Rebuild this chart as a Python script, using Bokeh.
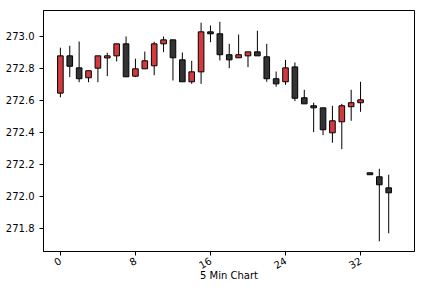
from bokeh.plotting import figure
from bokeh.models import ColumnDataSource, Range1d, FixedTicker, NumeralTickFormatter
from bokeh.embed import file_html
from bokeh.resources import INLINE

idx = list(range(36))
opens = [272.646, 272.879, 272.804, 272.742, 272.802, 272.866, 272.879, 272.954, 272.752, 272.798,
         272.817, 272.954, 272.979, 272.854, 272.717, 272.779, 273.029, 273.017, 272.886, 272.867,
         272.879, 272.904, 272.873, 272.736, 272.717, 272.810, 272.617, 272.567, 272.554, 272.398,
         272.467, 272.561, 272.586, 272.148, 272.123, 272.054]
highs = [272.930, 272.942, 272.969, 272.786, 272.879, 272.898, 272.954, 273.000, 272.861, 272.906,
         272.967, 273.000, 272.979, 272.900, 272.848, 273.086, 273.069, 273.092, 272.954, 273.012,
         272.904, 273.036, 272.954, 272.781, 272.854, 272.838, 272.667, 272.586, 272.554, 272.567,
         272.579, 272.667, 272.717, 272.148, 272.173, 272.136]
lows = [272.620, 272.746, 272.714, 272.714, 272.714, 272.752, 272.844, 272.748, 272.746, 272.798,
        272.758, 272.902, 272.725, 272.717, 272.704, 272.704, 272.964, 272.850, 272.802, 272.867,
        272.808, 272.879, 272.717, 272.686, 272.698, 272.596, 272.579, 272.402, 272.383, 272.336,
        272.296, 272.473, 272.529, 272.136, 271.720, 271.770]
closes = [272.879, 272.814, 272.736, 272.786, 272.879, 272.879, 272.954, 272.748, 272.798, 272.848,
          272.954, 272.979, 272.867, 272.717, 272.779, 273.029, 273.017, 272.886, 272.854, 272.886,
          272.904, 272.879, 272.736, 272.704, 272.804, 272.614, 272.579, 272.554, 272.417, 272.473,
          272.567, 272.586, 272.604, 272.136, 272.073, 272.023]
x_ticks = [0, 8, 16, 24, 32]
y_ticks = [271.8, 272.0, 272.2, 272.4, 272.6, 272.8, 273.0]
x_label = "5 Min Chart"

up_color = "#d23a3e"
down_color = "#333333"

src = ColumnDataSource(dict(
    x=idx, high=highs, low=lows,
    top=[max(o, c) for o, c in zip(opens, closes)],
    bottom=[min(o, c) for o, c in zip(opens, closes)],
    color=[up_color if c > o else down_color for o, c in zip(opens, closes)],
))

p = figure(width=424, height=294, output_backend="svg", toolbar_location=None,
           x_range=Range1d(-1.8, 37.75), y_range=Range1d(271.656, 273.1625),
           min_border_left=43, min_border_right=10, min_border_top=10, min_border_bottom=43)
p.background_fill_color = "white"
p.border_fill_color = "white"
p.outline_line_color = "black"
p.outline_line_width = 1
p.xgrid.visible = False
p.ygrid.visible = False

p.segment(x0="x", y0="low", x1="x", y1="high", source=src, line_color="black", line_width=1)
p.vbar(x="x", width=0.6, top="top", bottom="bottom", source=src,
       fill_color="color", line_color="black", line_width=1)

for ax in (p.xaxis[0], p.yaxis[0]):
    ax.major_label_text_font = "DejaVu Sans"
    ax.major_label_text_font_size = "10px"
    ax.major_label_text_color = "black"
    ax.axis_line_color = "black"
    ax.major_tick_line_color = "black"
    ax.major_tick_out = 4
    ax.major_tick_in = 0
    ax.minor_tick_line_color = None

p.xaxis.ticker = FixedTicker(ticks=x_ticks)
p.yaxis.ticker = FixedTicker(ticks=y_ticks)
p.yaxis.formatter = NumeralTickFormatter(format="0.0")
p.xaxis.major_label_orientation = 0.52
p.xaxis.major_label_standoff = 4
p.xaxis.axis_label = x_label
p.xaxis.axis_label_text_font = "DejaVu Sans"
p.xaxis.axis_label_text_font_size = "10px"
p.xaxis.axis_label_text_font_style = "normal"
p.xaxis.axis_label_text_color = "black"
p.xaxis.axis_label_standoff = -6

open("out.html", "w").write(file_html(p, INLINE))
